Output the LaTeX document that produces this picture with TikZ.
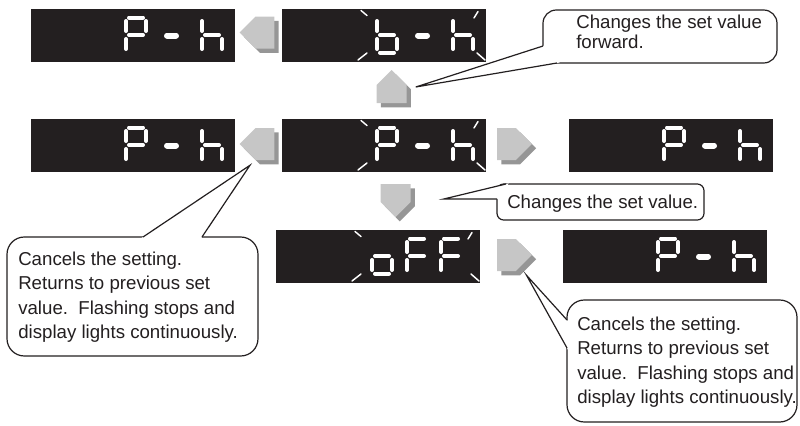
\documentclass[tikz,border=0pt]{standalone}
\usepackage{fontspec}
\setmainfont{Liberation Sans}
\usetikzlibrary{positioning, calc, shapes.symbols, shadows}
\definecolor{lcdblack}{RGB}{35,31,32}
\definecolor{keylight}{RGB}{198,198,198}
\definecolor{keyshade}{RGB}{150,150,150}
\definecolor{inkline}{RGB}{35,31,32}

% one 7-segment digit: #1,#2 = top left corner, #3 = lit segments
\newcommand{\segdigit}[3]{
  \foreach \s in {#3}{
    \if\s a\draw[segline] (#1+5,#2+2) -- (#1+19,#2+2);\fi
    \if\s b\draw[segline] (#1+22,#2+5.5) -- (#1+22,#2+15.5);\fi
    \if\s c\draw[segline] (#1+22,#2+23.5) -- (#1+22,#2+33.5);\fi
    \if\s d\draw[segline] (#1+5,#2+37) -- (#1+19,#2+37);\fi
    \if\s e\draw[segline] (#1+2,#2+23.5) -- (#1+2,#2+33.5);\fi
    \if\s f\draw[segline] (#1+2,#2+5.5) -- (#1+2,#2+15.5);\fi
    \if\s g\draw[segline] (#1+5,#2+19.5) -- (#1+19,#2+19.5);\fi
  }
}
\newcommand{\segdash}[2]{\draw[segline, line width=4.5pt] (#1-4.5,#2) -- (#1+4.5,#2);}
\newcommand{\readPh}{\segdigit{93}{6.5}{a,b,e,f,g}\segdash{140.5}{26.5}\segdigit{169}{6.5}{c,e,f,g}}
\newcommand{\flashmarks}{
  \draw[flashline] (79,1.5) -- (85,6.5);
  \draw[flashline] (76,51) -- (85,44);
  \draw[flashline] (192,9) -- (196,2.5);
  \draw[flashline] (195,44) -- (203,51);
}
\newcommand{\lcd}[3]{
  \node[lcdbox] (#1) at (#2) {};
  \begin{scope}[shift={(#1.north west)}] #3 \end{scope}
}
\newcommand{\calloutwedge}[3]{
  \fill[white] ($#1!-2pt!#3$) -- #3 -- ($#2!-2pt!#3$) -- cycle;
  \draw[bubbleline] #1 -- #3 -- #2;
}

\begin{document}
\begin{tikzpicture}[
    x=0.75pt, y=-0.75pt,
    lcdbox/.style={fill=lcdblack, anchor=north west, minimum width=153pt, minimum height=39.75pt, inner sep=0pt},
    segline/.style={draw=white, line width=3pt, line cap=round},
    flashline/.style={draw=white, line width=1.1pt, line cap=round},
    key/.style={shape=signal, fill=keylight, inner sep=0pt, signal pointer angle=90,
      general shadow={fill=keyshade, shadow xshift=3.2pt, shadow yshift=-3.2pt}},
    keyside/.style={key, minimum width=26pt, minimum height=24pt},
    keyvert/.style={key, minimum width=22.5pt, minimum height=13.5pt},
    bubbleline/.style={draw=inkline, line width=0.9pt},
    bubble/.style={bubbleline, fill=white, rounded corners=10pt},
    note/.style={anchor=north west, align=left, inner sep=0pt, text=inkline,
      font=\fontsize{14pt}{18.4pt}\selectfont},
]
\useasboundingbox (0,0) rectangle (800,425);

% ------------------------------------------------------------ top row ---
\lcd{dTopL}{31,9}{\readPh}
\lcd{dTopM}{282,9}{\flashmarks\segdigit{93}{6.5}{c,d,e,f,g}\segdash{140.5}{26.5}\segdigit{169}{6.5}{c,e,f,g}}
\node[keyside, signal to=west] (kTop) at (265,32.5) {};
\node[keyvert, signal to=north] (kUp) at (391.5,94) {};

% --------------------------------------------------------- middle row ---
\lcd{dMidL}{31,119}{\readPh}
\lcd{dMidM}{282,119}{\flashmarks\readPh}
\lcd{dMidR}{569,119}{\readPh}
\node[keyside, signal to=west] (kMidL) at (265,144) {};
\node[keyside, signal to=east] (kMidR) at (506.5,144) {};
\node[keyvert, signal to=south] (kDown) at (395.5,193) {};

% --------------------------------------------------------- bottom row ---
\lcd{dBotM}{276,230}{\flashmarks\segdigit{94}{6.5}{c,d,e,g}\segdigit{129}{6.5}{a,e,f,g}\segdigit{163}{6.5}{a,e,f,g}}
\lcd{dBotR}{563,230}{\readPh}
\node[keyside, signal to=east] (kBotR) at (506.5,255) {};

% ----------------------------------------------------------- callouts ---
\coordinate (tipUp) at ($(kUp.east)+(9,-7)$);
\coordinate (tipDown) at ($(kDown.east)+(33,6)$);
\coordinate (tipMidL) at ($(kMidL.south)+(-15,5)$);
\coordinate (tipBotR) at ($(kBotR.south)+(20,4)$);

\draw[bubble] (543,10) rectangle (777,63);
\calloutwedge{(543,46)}{(557,63)}{(tipUp)}
\node[note, font=\fontsize{14pt}{15pt}\selectfont] (fwdnote) at (576,15) {Changes the set value\\forward.};

\draw[bubble, rounded corners=5pt] (497,184) rectangle (704,220);
\calloutwedge{(506,184)}{(497,199)}{(tipDown)}
\node[note] (setnote) at (507,194.6) {Changes the set value.};

\draw[bubble, rounded corners=13pt] (7,237) rectangle (258,356);
\calloutwedge{(143,237)}{(202,237)}{(tipMidL)}
\node[note] (cancelL) at (18,251.6) {Cancels the setting.\\Returns to previous set\\value.\ \ Flashing stops and\\display lights continuously.};

\draw[bubble, rounded corners=13pt] (567,300) rectangle (797,422);
\calloutwedge{(567,320)}{(567,348)}{(tipBotR)}
\node[note] (cancelR) at (577,316.6) {Cancels the setting.\\Returns to previous set\\value.\ \ Flashing stops and\\display lights continuously.};

\end{tikzpicture}
\end{document}
